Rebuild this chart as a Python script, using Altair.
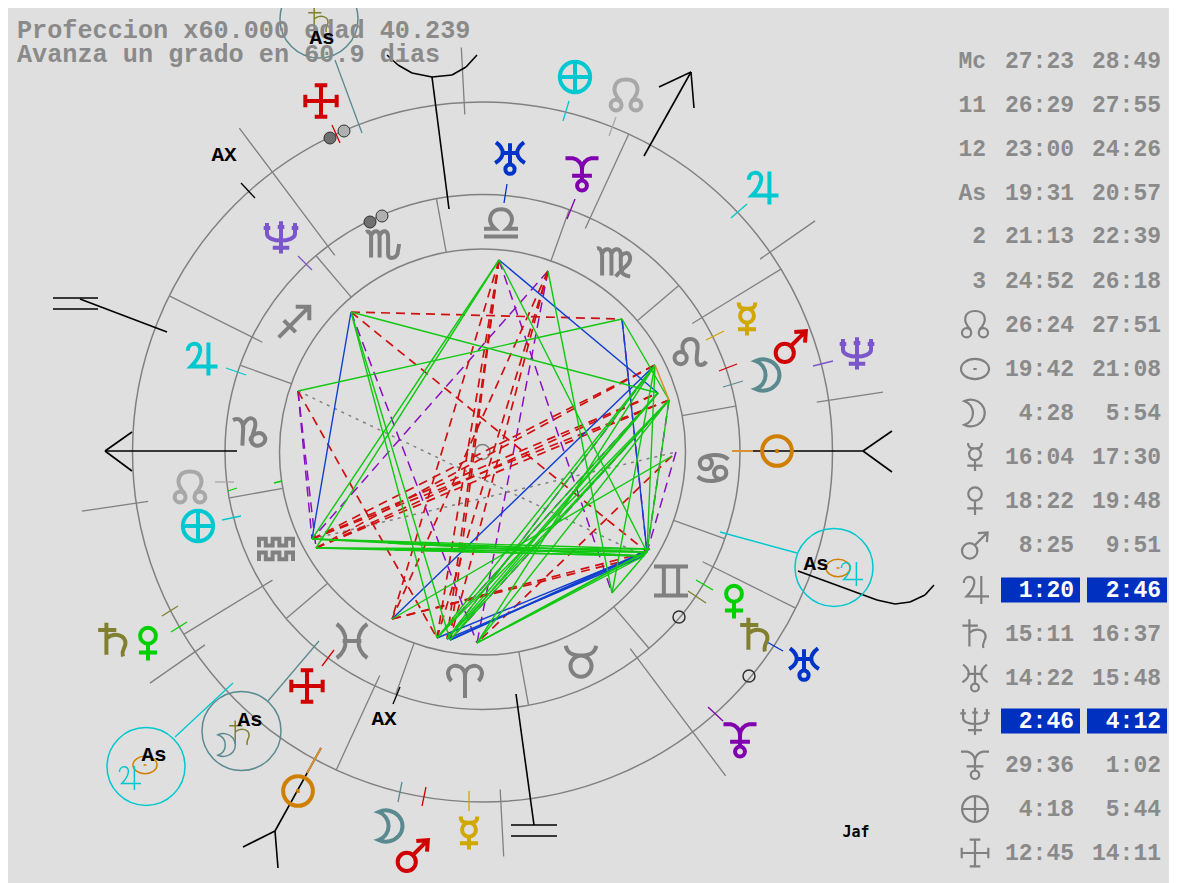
import altair as alt
import pandas as pd

# ---------- data ----------
HEAD_TXT = ["Profeccion x60.000  edad 40.239", "Avanza un grado en 60.9 dias"]
HEAD_X = [17, 17]
HEAD_Y = [30, 54]

ROW_Y = [61, 105, 149, 193, 236, 281, 325, 369, 413, 457, 501, 545, 590, 634, 678, 721, 765, 809, 853]
ROW_LABEL = ["Mc", "11", "12", "As", "2", "3"]
ROW_GLYPH = ["node", "sun_oval", "moon", "mercury", "venus", "mars", "jupiter", "saturn", "uranus", "neptune", "pluto", "pars", "cross"]
COL1 = ["27:23", "26:29", "23:00", "19:31", "21:13", "24:52", "26:24", "19:42", "4:28", "16:04", "18:22", "8:25",
        "1:20", "15:11", "14:22", "2:46", "29:36", "4:18", "12:45"]
COL2 = ["28:49", "27:55", "24:26", "20:57", "22:39", "26:18", "27:51", "21:08", "5:54", "17:30", "19:48", "9:51",
        "2:46", "16:37", "15:48", "4:12", "1:02", "5:44", "14:11"]
HILITE_ROWS = [12, 15]

CX, CY = 482.5, 452
RINGS = [350, 257.5, 203]
CENTER_R = 7.5
SIGN_ANGLES = [10.3, 40.3, 70.3, 100.3, 130.3, 160.3, 190.3, 220.3, 250.3, 280.3, 310.3, 340.3]
CUSP_SHORT = [65.3, 31.5, 333.5, 153.5, 211.4, 245.3]      # r 246..350
CUSP_LONG = [126.9, 306.9]                                 # r 246..405
CUSP_OUT = [93, 273, 34.8, 8.5, 188.4, 214.8]              # r 338..405

# x, y, colour for zodiac and planets
ZODIAC = [("libra", 501, 222), ("virgo", 614, 262), ("leo", 690, 353), ("cancer", 713, 468), ("gemini", 671, 581),
          ("taurus", 581, 661), ("aries", 465, 681), ("pisces", 352, 641), ("aquarius", 276, 549),
          ("capricorn", 250, 432), ("sagittarius", 294, 322), ("scorpio", 383, 244)]
PLANETS = [("neptune", 281, 237), ("neptune", 857, 353), ("node", 626, 96), ("node", 190, 488), ("pars", 575, 77),
           ("pars", 198, 526), ("jupiter", 762, 188), ("jupiter", 201, 359), ("uranus", 510, 158), ("uranus", 804, 664),
           ("pluto", 582, 174), ("pluto", 740, 740), ("mercury", 747, 319), ("mercury", 469, 833), ("mars", 791, 346),
           ("mars", 413, 855), ("moon", 768, 375), ("moon", 391, 826), ("sun", 777, 451), ("sun", 298, 791),
           ("venus", 148, 644), ("venus", 734, 602), ("saturn", 113, 640), ("saturn", 755, 635), ("cross", 321, 101),
           ("cross", 307, 686)]
SMALL = [("sun_oval", "orange", 145, 765), ("jupiter", "cyan", 129, 778), ("sun_oval", "orange", 838, 568),
         ("jupiter", "cyan", 851, 574), ("saturn", "olive", 240, 733), ("moon", "teal", 227, 745),
         ("saturn", "olive", 319, 20)]

COLORS = {"purple": "#7b55cc", "node": "#a8a8a8", "cyan": "#00c8d0", "blue": "#0033c8", "violet": "#8000b0",
          "gold": "#d0a800", "red": "#d00000", "teal": "#5a8a90", "orange": "#d08000", "green": "#00d000",
          "olive": "#808030", "gray": "#808080", "black": "#000000", "gline": "#00cc00", "orange2": "#d89030"}
PLANET_COLOR = {"neptune": "purple", "node": "node", "pars": "cyan", "jupiter": "cyan", "uranus": "blue",
                "pluto": "violet", "mercury": "gold", "mars": "red", "moon": "teal", "sun": "orange",
                "venus": "green", "saturn": "olive", "cross": "red"}

LEADER_CIRCLES = [(319, 19, 39, "teal"), (241.5, 731, 39.5, "teal"), (146, 766.5, 39, "cyan"), (834, 567.5, 39, "cyan")]
OPEN_DOTS = [(679, 617), (749, 676)]
DARK_DOTS = [(330, 138), (370, 222)]
LIGHT_DOTS = [(344, 131), (382, 216)]

TICKS = [
    ("red", 332, 125, 340, 143), ("black", 241, 183, 255, 198), ("purple", 298, 256, 312, 270),
    ("cyan", 569, 101, 563, 121), ("node", 616, 117, 609, 136), ("blue", 507, 184, 504, 203),
    ("violet", 575, 199, 567, 219), ("cyan", 747, 204, 731, 218), ("cyan", 226, 368, 246, 375),
    ("node", 215, 482, 234, 482), ("green", 228, 491, 237, 488), ("green", 274, 483, 282, 481),
    ("cyan", 222, 520, 241, 516), ("gold", 706, 340, 724, 331), ("red", 719, 371, 737, 364),
    ("teal", 723, 387, 743, 381), ("purple", 813, 366, 833, 361), ("olive", 162, 616, 178, 606),
    ("green", 171, 632, 187, 622), ("red", 322, 666, 334, 650), ("black", 393, 704, 400, 687),
    ("teal", 398, 802, 402, 782), ("red", 422, 806, 426, 787), ("gold", 469, 811, 469, 791),
    ("green", 696, 580, 713, 590), ("olive", 688, 591, 706, 603), ("blue", 767, 642, 783, 651),
    ("violet", 708, 707, 723, 721), ("teal", 319, 641, 268, 701), ("cyan", 233, 683, 175, 737),
    ("teal", 362, 133, 335, 60), ("cyan", 720, 532, 797, 553),
]
BLACK = [
    (753, 451, 863, 451), (863, 451, 892, 431), (863, 451, 892, 472),
    (237, 451, 105, 451), (105, 451, 132, 432), (105, 451, 132, 471),
    (53, 298, 98, 298), (53, 309, 98, 309), (80, 299, 167, 332),
    (321, 748, 275, 831), (275, 831, 243, 847), (275, 831, 278, 868),
    (516, 694, 534, 825), (511, 825, 557, 825), (511, 836, 557, 836),
    (644, 156, 691, 72), (659, 87, 691, 72), (691, 72, 694, 108),
    (432, 77, 449, 209), (387, 55, 398, 65), (398, 65, 412, 73), (412, 73, 432, 77), (432, 77, 452, 75),
    (452, 75, 466, 67), (466, 67, 477, 55),
    (798, 571, 877, 600), (877, 600, 895, 604), (895, 604, 910, 602), (910, 602, 925, 595), (925, 595, 934, 585),
]
ORANGE_SEG = [(732, 451, 753, 451), (321, 748, 307, 773), (655, 365, 669, 400)]

# aspect vertices read from the wheel
V = {"A": (499, 260), "B": (548, 271), "C": (351, 312), "D": (622, 319), "E": (655, 365), "F": (669, 400),
     "F2": (658, 393), "G": (676, 452), "G2": (672, 456), "H": (298, 391), "I": (312, 539), "J": (316, 548),
     "K": (647, 552), "K2": (644, 556), "K3": (650, 549), "L": (612, 593), "M": (392, 619), "N": (437, 638), "O": (450, 640),
     "O2": (447, 639), "P": (477, 643), "J2": (388, 543), "J3": (395, 550)}
BLUE_ASP = ["A-F2", "C-I", "D-K", "M-E", "K-N", "K-O", "K2-O2", "K3-O"]
GREEN_ASP = ["A-K", "B-L", "A-I", "A-J", "C-N", "C-O", "C-F2", "H-D", "D-F", "E-L", "F-N", "F-O", "F2-N", "F2-O",
             "E-N", "E-O2", "F-O2", "F2-O2", "I-K", "J-K", "I-K2", "J-K2", "P-K", "P-K2", "P-K3", "E-K", "F-K", "G2-M", "F-P", "E-P",
             "L-K", "I-K3", "J-K3", "J2-K", "J3-K", "J2-K2", "J3-K2"]
RED_ASP = ["C-D", "C-K", "H-N", "G2-P", "A-M", "A-N", "A-O", "B-N", "B-O", "B-M", "A-O2", "I-F2", "I-E", "J-F2", "J-E",
           "J-F", "I-F", "M-K", "M-K2"]
VIOLET_ASP = ["H-I", "H-J", "C-P", "B-I", "A-L", "D-K", "G-K", "F2-N", "F-O", "F-K", "B-P", "E-O2"]
GRAY_ASP = ["H-K2", "I-G"]

AX_LABELS = [("AX", 224, 155), ("AX", 384, 719)]
AS_LABELS = [("As", 322, 38), ("As", 250, 720), ("As", 154, 755), ("As", 816, 564)]
SIGNATURE = [("Jaf", 856, 832)]

# ---------- glyph outlines, unit square ----------
def c(x, y, r):
    return f"M{x-r},{y}A{r},{r} 0 1,1 {x+r},{y}A{r},{r} 0 1,1 {x-r},{y}Z"

GLYPH = {
    "sun": c(0, 0, 0.9) + "M-0.1,0L0.1,0",
    "sun_oval": "M-1,0A1,0.72 0 1,1 1,0A1,0.72 0 1,1 -1,0Z M-0.12,0L0.12,0",
    "moon": "M-0.75,-0.85A1,0.95 0 1,1 -0.75,0.85A0.9,0.9 0 0,0 -0.75,-0.85Z",
    "venus": c(0, -0.5, 0.48) + "M0,-0.02L0,1M-0.55,0.52L0.55,0.52",
    "mercury": c(0, -0.2, 0.42) + "M-0.5,-1C-0.5,-0.7 -0.35,-0.6 0,-0.62C0.35,-0.6 0.5,-0.7 0.5,-1M0,0.22L0,1M-0.55,0.62L0.55,0.62",
    "mars": c(-0.38, 0.42, 0.55) + "M0,0L0.9,-0.9M0.2,-0.85L0.9,-0.9L0.85,-0.2",
    "jupiter": "M-0.8,-0.5C-0.8,-1.05 0,-1.1 -0.05,-0.5C-0.1,-0.1 -0.45,0.3 -0.6,0.45L1,0.45M0.45,-1L0.45,1",
    "saturn": "M-0.9,-0.6L0.2,-0.6M-0.4,-1.05L-0.4,0.9M-0.4,-0.1C0.1,-0.5 0.8,-0.3 0.75,0.25C0.7,0.55 0.5,0.6 0.6,1",
    "uranus": "M0,-0.9L0,0.4M-0.85,-0.95C-0.3,-0.55 -0.3,-0.05 -0.9,0.3M0.85,-0.95C0.3,-0.55 0.3,-0.05 0.9,0.3M-0.55,-0.3L0.55,-0.3" + c(0, 0.68, 0.28),
    "neptune": "M-0.85,-0.85L-0.85,-0.2C-0.85,0.35 0.85,0.35 0.85,-0.2L0.85,-0.85M0,-0.95L0,1M-0.5,0.65L0.5,0.65M-1.05,-0.55L-0.65,-0.55M-0.2,-0.6L0.2,-0.6M0.65,-0.55L1.05,-0.55",
    "pluto": "M-1,-0.95L-0.55,-0.95C-0.25,-0.9 0,-0.65 0,-0.3C0,-0.65 0.25,-0.9 0.55,-0.95L1,-0.95M0,-0.3L0,0.4M-0.6,0.1L0.6,0.1" + c(0, 0.7, 0.3),
    "node": "M-0.3,0.35C-1,-0.35 -0.7,-1 0,-1C0.7,-1 1,-0.35 0.3,0.35" + c(-0.6, 0.55, 0.33) + c(0.6, 0.55, 0.33),
    "pars": c(0, 0, 0.92) + "M-0.92,0L0.92,0M0,-0.92L0,0.92",
    "cross": "M0,-1L0,1M-1,0L1,0M-0.38,-0.95L0.38,-0.95M-0.38,0.95L0.38,0.95M-0.95,-0.38L-0.95,0.38M0.95,-0.38L0.95,0.38",
    "libra": "M-1,0.85L1,0.85M-1,0.4L-0.35,0.4C-0.9,-0.1 -0.6,-0.75 0,-0.75C0.6,-0.75 0.9,-0.1 0.35,0.4L1,0.4",
    "virgo": "M-1,-0.8C-0.8,-0.85 -0.7,-0.6 -0.7,-0.3L-0.7,0.8M-0.7,-0.5C-0.5,-0.9 -0.15,-0.8 -0.15,-0.4L-0.15,0.8M-0.15,-0.5C0.05,-0.9 0.4,-0.8 0.4,-0.4L0.4,0.3C0.4,0.7 0.6,0.8 0.95,0.85M0.4,-0.35C0.9,-0.85 1.15,-0.15 0.75,0.2C0.5,0.45 0.3,0.6 0.1,0.85",
    "leo": c(-0.55, 0.3, 0.36) + "M-0.35,0C-0.8,-0.9 0.5,-1.15 0.45,-0.3C0.4,0.2 0.3,0.7 0.6,0.7C0.8,0.7 0.9,0.6 0.95,0.5",
    "cancer": c(-0.42, -0.28, 0.36) + c(0.42, 0.28, 0.36) + "M-0.78,-0.28C-0.8,-0.85 0.5,-0.9 0.9,-0.5M0.78,0.28C0.8,0.85 -0.5,0.9 -0.9,0.5",
    "gemini": "M-1,-0.85L1,-0.85M-1,0.85L1,0.85M-0.42,-0.85L-0.42,0.85M0.42,-0.85L0.42,0.85",
    "taurus": c(0, 0.3, 0.62) + "M-0.9,-0.9C-0.8,-0.45 -0.5,-0.32 0,-0.32C0.5,-0.32 0.8,-0.45 0.9,-0.9",
    "aries": "M0,1L0,-0.3C0,-1 -0.9,-1.1 -1,-0.5C-1,-0.2 -0.9,-0.1 -0.8,0M0,-0.3C0,-1 0.9,-1.1 1,-0.5C1,-0.2 0.9,-0.1 0.8,0",
    "pisces": "M-0.9,-1C-0.2,-0.5 -0.2,0.5 -0.9,1M0.9,-1C0.2,-0.5 0.2,0.5 0.9,1M-0.55,0L0.55,0",
    "aquarius": "M-1,-0.1L-1,-0.6L-0.6,-0.6L-0.6,-0.2L-0.2,-0.2L-0.2,-0.6L0.2,-0.6L0.2,-0.2L0.6,-0.2L0.6,-0.6L1,-0.6L1,-0.1"
                "M-1,0.7L-1,0.2L-0.6,0.2L-0.6,0.6L-0.2,0.6L-0.2,0.2L0.2,0.2L0.2,0.6L0.6,0.6L0.6,0.2L1,0.2L1,0.7",
    "capricorn": "M-1,-0.7C-0.6,-0.9 -0.4,-0.6 -0.4,-0.2L-0.45,0.8M-0.4,-0.4C-0.1,-1 0.4,-0.9 0.3,-0.3L0.1,0.35C0,0.8 0.5,0.95 0.8,0.65C1.05,0.35 0.75,-0.05 0.35,0.1C0.1,0.2 0,0.4 0.05,0.5",
    "sagittarius": "M-0.9,0.9L0.9,-0.9M0.1,-0.9L0.9,-0.9L0.9,-0.1M-0.6,-0.1L0.1,0.6",
    "scorpio": "M-1,-0.7C-0.8,-0.8 -0.7,-0.6 -0.7,-0.4L-0.7,0.8M-0.7,-0.5C-0.5,-0.9 -0.2,-0.8 -0.2,-0.4L-0.2,0.8M-0.2,-0.5C0,-0.9 0.3,-0.8 0.3,-0.4L0.3,0.6C0.3,0.9 0.7,0.9 0.85,0.6L0.95,0",
}

# ---------- scales and helpers ----------
W, H = 1161, 875
XS = alt.Scale(domain=[8, 1169], nice=False, zero=False)
YS = alt.Scale(domain=[883, 8], nice=False, zero=False)
X = lambda f="x": alt.X(f"{f}:Q", scale=XS, axis=None)
Y = lambda f="y": alt.Y(f"{f}:Q", scale=YS, axis=None)

def pol(a, r):
    import math
    return CX + r * math.cos(math.radians(a)), CY - r * math.sin(math.radians(a))

def rules(segs, color, width, dash=None, opacity=1):
    df = pd.DataFrame(segs, columns=["x", "y", "x2", "y2"])
    kw = dict(color=color, strokeWidth=width, opacity=opacity)
    if dash:
        kw["strokeDash"] = dash
    return alt.Chart(df).mark_rule(**kw).encode(x=X(), y=Y(), x2="x2:Q", y2="y2:Q")

def glyphs(rows):
    df = pd.DataFrame(rows, columns=["path", "col", "size", "sw", "x", "y"])
    return alt.Chart(df).mark_point(filled=False, opacity=1).encode(
        x=X(), y=Y(),
        shape=alt.Shape("path:N", scale=None),
        color=alt.Color("col:N", scale=None),
        size=alt.Size("size:Q", scale=None),
        strokeWidth=alt.StrokeWidth("sw:Q", scale=None),
    )

def circles(rows, filled=False, fill=None, stroke="#808080", sw=1.5):
    df = pd.DataFrame(rows, columns=["x", "y", "size", "col"])
    return alt.Chart(df).mark_point(shape="circle", filled=False, opacity=1, strokeWidth=sw,
                                    **({"fill": fill, "fillOpacity": 1} if fill else {})).encode(
        x=X(), y=Y(), size=alt.Size("size:Q", scale=None), color=alt.Color("col:N", scale=None))

def texts(rows, size, color, font="Liberation Mono", weight="bold", align="left"):
    df = pd.DataFrame(rows, columns=["t", "x", "y"])
    return alt.Chart(df).mark_text(font=font, fontSize=size, fontWeight=weight, color=color, align=align,
                                   baseline="middle").encode(x=X(), y=Y(), text="t:N")

def asp(names):
    out = []
    for n in names:
        a, b = n.split("-")
        out.append((*V[a], *V[b]))
    return out

layers = []

# rings
layers.append(circles([(CX, CY, (2 * r) ** 2, "#808080") for r in RINGS + [CENTER_R]]))
layers.append(rules([(*pol(a, 203), *pol(a, 257)) for a in SIGN_ANGLES], "#808080", 1.3))
layers.append(rules([(*pol(a, 246), *pol(a, 350)) for a in CUSP_SHORT], "#808080", 1.3))
layers.append(rules([(*pol(a, 246), *pol(a, 405)) for a in CUSP_LONG], "#808080", 1.3))
layers.append(rules([(*pol(a, 338), *pol(a, 405)) for a in CUSP_OUT], "#808080", 1.3))

# aspects
layers.append(rules(asp(GRAY_ASP), "#808080", 1.5, dash=[3, 5]))
layers.append(rules(asp(VIOLET_ASP), "#8a10c0", 1.5, dash=[10, 6]))
layers.append(rules(asp(RED_ASP), "#d01010", 1.7, dash=[9, 6]))
layers.append(rules(asp(BLUE_ASP), "#1040d0", 1.4))
layers.append(rules(asp(GREEN_ASP), "#10c810", 1.4))
layers.append(rules(ORANGE_SEG[2:], COLORS["orange2"], 1.5))

# black axes and coloured ticks
layers.append(rules(BLACK, "#000000", 1.6))
for col in sorted({t[0] for t in TICKS}):
    layers.append(rules([t[1:] for t in TICKS if t[0] == col], COLORS[col], 1.3))
layers.append(rules(ORANGE_SEG[:2], COLORS["orange2"], 2))

# circles round the progressed points, small dots
layers.append(circles([(x, y, (2 * r) ** 2, COLORS[col]) for x, y, r, col in LEADER_CIRCLES]))
layers.append(circles([(x, y, 144, "#303030") for x, y in OPEN_DOTS], sw=1.5))
layers.append(circles([(x, y, 144, "#303030") for x, y in DARK_DOTS], fill="#707070", sw=1))
layers.append(circles([(x, y, 144, "#303030") for x, y in LIGHT_DOTS], fill="#b0b0b0", sw=1))

# glyphs on the wheel
rows = [(GLYPH[g], COLORS["gray"], 34 ** 2, 4, x, y) for g, x, y in ZODIAC]
rows += [(GLYPH[g], COLORS[PLANET_COLOR[g]], 33 ** 2, 4, x, y) for g, x, y in PLANETS]
rows += [(GLYPH[g], COLORS[col], 24 ** 2, 1.5, x, y) for g, col, x, y in SMALL]
# table glyphs
rows += [(GLYPH[g], COLORS["gray"], 28 ** 2, 2.2, 975, ROW_Y[i + 6]) for i, g in enumerate(ROW_GLYPH)]
layers.append(glyphs(rows))

# highlighted table cells
hl = pd.DataFrame([{"x": x0, "x2": x1, "y": ROW_Y[i] - 12.5, "y2": ROW_Y[i] + 12.5}
                   for i in HILITE_ROWS for x0, x1 in [(1001, 1080), (1087, 1167)]])
layers.append(alt.Chart(hl).mark_rect(color="#0030c0").encode(x=X(), x2="x2:Q", y=Y(), y2="y2:Q"))

# text
TXT = "#8a8a8a"
layers.append(texts(list(zip(HEAD_TXT, HEAD_X, HEAD_Y)), 25.2, TXT))
layers.append(texts([(t, 986, ROW_Y[i]) for i, t in enumerate(ROW_LABEL)], 23, TXT, align="right"))
layers.append(texts([(t, 1074, ROW_Y[i]) for i, t in enumerate(COL1) if i not in HILITE_ROWS], 23, TXT, align="right"))
layers.append(texts([(t, 1161, ROW_Y[i]) for i, t in enumerate(COL2) if i not in HILITE_ROWS], 23, TXT, align="right"))
layers.append(texts([(COL1[i], 1074, ROW_Y[i]) for i in HILITE_ROWS], 23, "#ffffff", align="right"))
layers.append(texts([(COL2[i], 1161, ROW_Y[i]) for i in HILITE_ROWS], 23, "#ffffff", align="right"))
layers.append(texts(AX_LABELS, 21, "#000000", align="center"))
layers.append(texts(AS_LABELS, 21, "#000000", align="center"))
layers.append(texts(SIGNATURE, 15, "#000000", font="DejaVu Sans Mono", align="center"))

chart = alt.layer(*layers).properties(
    width=W, height=H, padding=0, background="#dfdfdf",
    autosize=alt.AutoSizeParams(type="none", contains="content"),
).configure_view(stroke=None)

chart.save("out.html", embed_options={"renderer": "svg", "actions": False})
